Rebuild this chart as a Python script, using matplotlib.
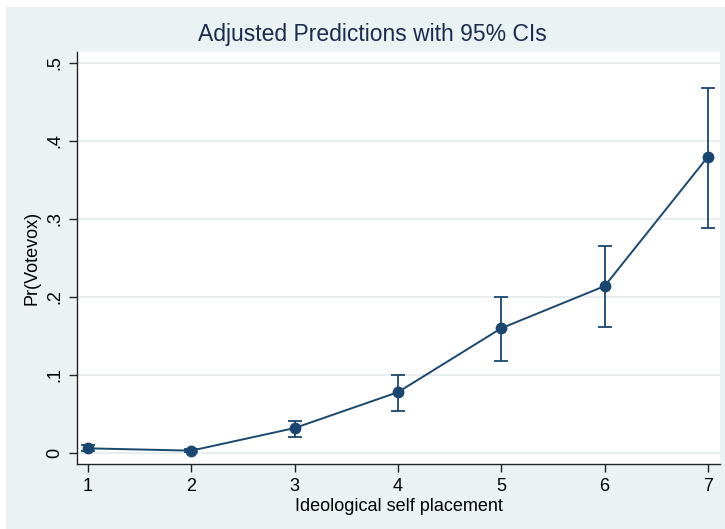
import matplotlib.pyplot as plt
import numpy as np

plt.rcParams['font.family'] = ['Liberation Sans', 'DejaVu Sans']

# ideology scale and predicted probabilities
placement = [1, 2, 3, 4, 5, 6, 7]
pr_votevox = [0.006, 0.003, 0.032, 0.078, 0.160, 0.214, 0.380]
ci_low = [0.002, 0.001, 0.021, 0.054, 0.118, 0.162, 0.288]
ci_high = [0.010, 0.005, 0.041, 0.100, 0.200, 0.265, 0.468]
yticks = [0, 0.1, 0.2, 0.3, 0.4, 0.5]
yticklabels = ['0', '.1', '.2', '.3', '.4', '.5']

navy = '#1a476f'
bg = '#eaf2f3'

fig = plt.figure(figsize=(7.25, 5.29), dpi=100)
fig.patch.set_facecolor('white')
# stata-style graph region
fig.add_artist(plt.Rectangle((6 / 725, 0), 1, 1 - 7 / 529, transform=fig.transFigure,
                             facecolor=bg, edgecolor='none', zorder=-10))

ax = fig.add_axes([77 / 725, 1 - 464 / 529, (720 - 77) / 725, (464 - 52) / 529])
ax.set_facecolor('white')

y = np.array(pr_votevox)
err = [y - np.array(ci_low), np.array(ci_high) - y]
ax.errorbar(placement, y, yerr=err, fmt='none', ecolor=navy, elinewidth=1.3,
            capsize=5, capthick=1.3, zorder=3)
ax.plot(placement, y, '-', color=navy, lw=1.4, zorder=4)
ax.plot(placement, y, 'o', color=navy, ms=7.5, zorder=5)

ax.set_xlim(0.894, 7.116)
ax.set_ylim(-0.0141, 0.5141)
ax.set_xticks(placement)
ax.set_yticks(yticks)
ax.set_yticklabels(yticklabels, rotation=90, va='center')
ax.grid(axis='y', color='#e4edef', lw=1.3, zorder=0)
ax.set_axisbelow(True)

for s in ['top', 'right']:
    ax.spines[s].set_visible(False)
for s in ['left', 'bottom']:
    ax.spines[s].set_color('#222222')
    ax.spines[s].set_linewidth(1.0)
ax.tick_params(axis='both', labelsize=13, length=6, width=1.0, color='#222222', pad=4)

ax.set_xlabel('Ideological self placement', fontsize=13, labelpad=2)
ax.set_ylabel('Pr(Votevox)', fontsize=13, labelpad=4)
fig.text(372 / 725, 1 - 35 / 529, 'Adjusted Predictions with 95% CIs', ha='center', va='center',
         fontsize=16.5, color='#1c2b4e')

fig.savefig('out.png', dpi=100, facecolor=fig.get_facecolor())
